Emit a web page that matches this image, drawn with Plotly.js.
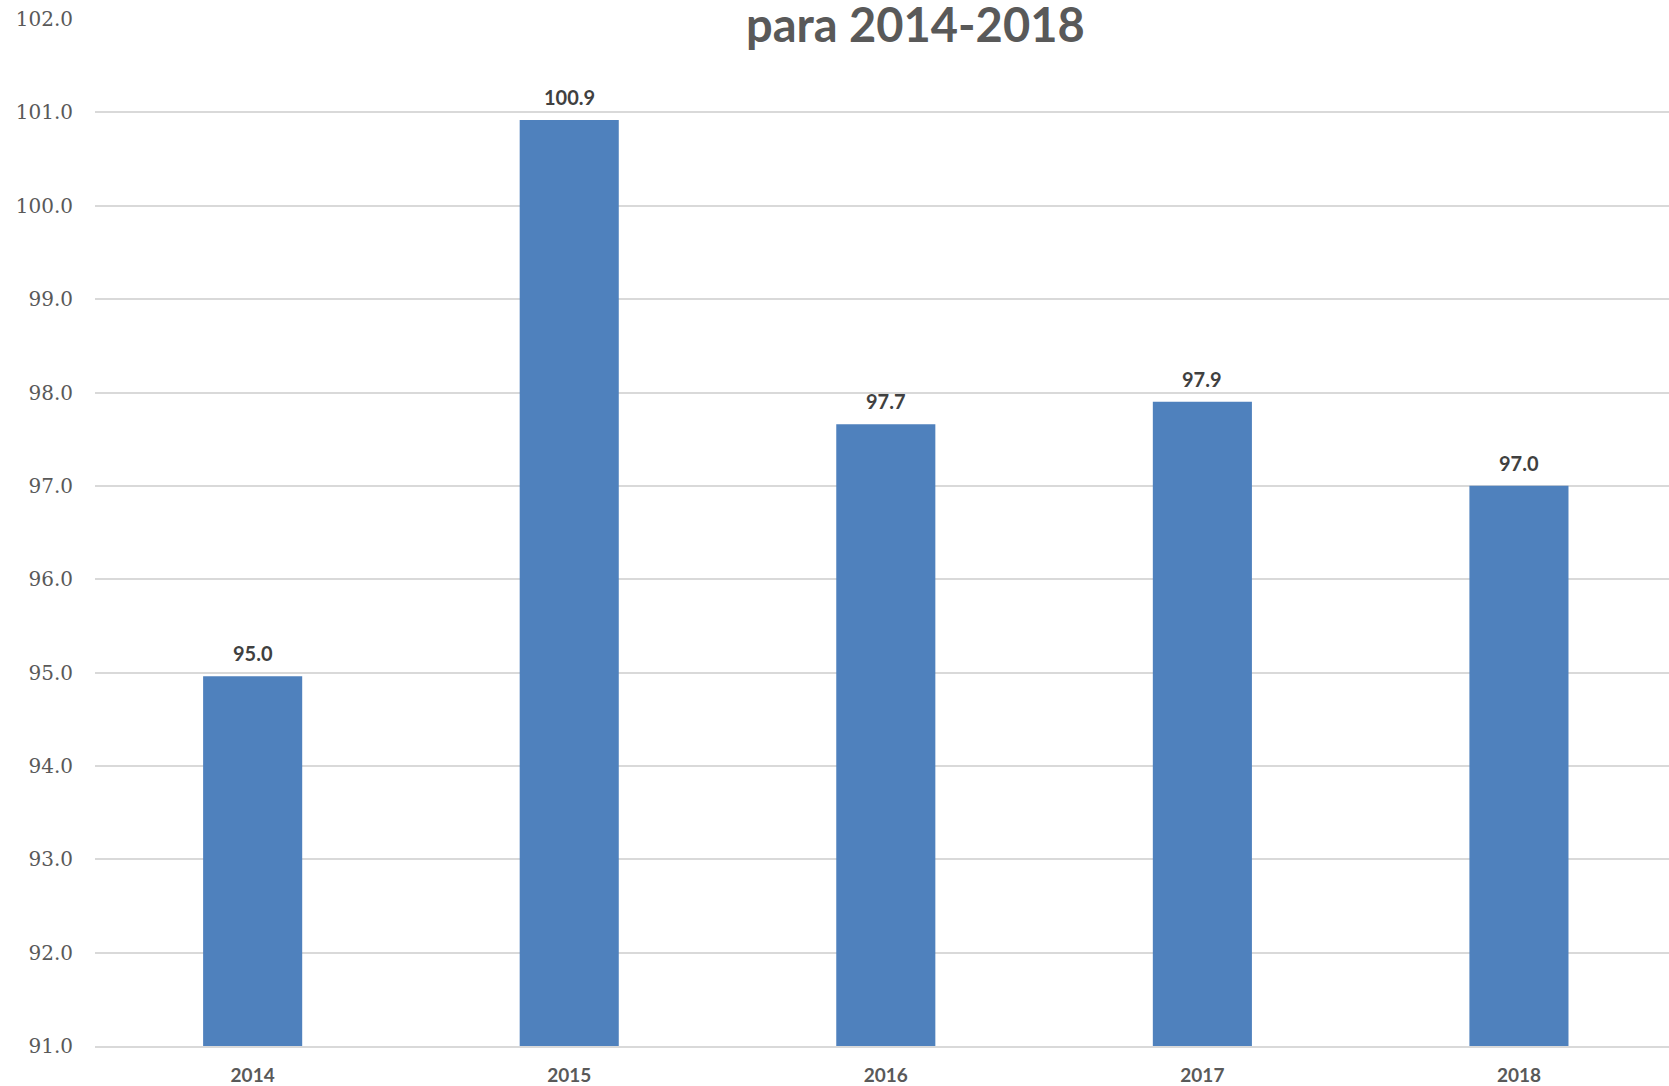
<!DOCTYPE html>
<html>
<head>
<meta charset="utf-8">
<script src="https://cdn.plot.ly/plotly-3.0.1.min.js"></script>
<style>html,body{margin:0;padding:0;background:#fff;} #chart{width:1669px;height:1086px;}</style>
</head>
<body>
<div id="chart"></div>
<script>
const years = ['2014', '2015', '2016', '2017', '2018'];
const values = [94.96, 100.92, 97.66, 97.9, 97.0];
const labels = ['95.0', '100.9', '97.7', '97.9', '97.0'];
const yTicks = [91, 92, 93, 94, 95, 96, 97, 98, 99, 100, 101, 102];
const titleText = 'para 2014-2018';

const trace = {
  type: 'bar',
  x: years,
  y: values,
  width: 0.313,
  marker: {color: '#4f81bd'},
  hoverinfo: 'x+y'
};

const annotations = years.map((yr, i) => ({
  x: i, y: values[i], xref: 'x', yref: 'y',
  text: '<b>' + labels[i] + '</b>', showarrow: false,
  xanchor: 'center', yanchor: 'bottom', yshift: 9,
  font: {family: 'Lato, "Open Sans", sans-serif', size: 20, color: '#404040'}
}));
annotations.push({
  x: 0.521, y: 0.995, xref: 'paper', yref: 'paper',
  text: '<b>' + titleText + '</b>', showarrow: false,
  xanchor: 'center', yanchor: 'middle',
  font: {family: 'Lato, "Open Sans", sans-serif', size: 47, color: '#595959'}
});

const layout = {
  width: 1669, height: 1086,
  margin: {l: 95, r: 0, t: 19, b: 40, pad: 0},
  paper_bgcolor: '#ffffff', plot_bgcolor: '#ffffff',
  showlegend: false,
  xaxis: {
    type: 'category',
    range: [-0.498, 4.474],
    showgrid: false,
    showline: true, linecolor: '#d9d9d9', linewidth: 2,
    ticks: '', ticklabelstandoff: 11,
    tickfont: {family: 'Lato, "Open Sans", sans-serif', size: 19, color: '#595959', weight: 700},
    fixedrange: true
  },
  yaxis: {
    range: [91, 102.001],
    tickvals: yTicks,
    ticktext: yTicks.map(v => v.toFixed(1)),
    showgrid: true, gridcolor: '#d9d9d9', gridwidth: 2,
    zeroline: false, showline: false,
    ticks: '', ticklabelstandoff: 21,
    tickfont: {family: '"DejaVu Serif", serif', size: 20, color: '#595959'},
    fixedrange: true
  },
  annotations: annotations
};

Plotly.newPlot('chart', [trace], layout, {displayModeBar: false, staticPlot: true});
</script>
</body>
</html>
